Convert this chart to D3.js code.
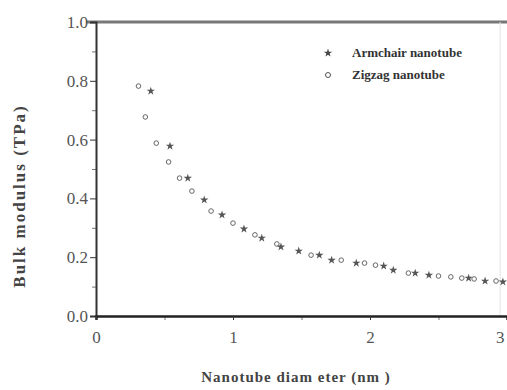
<!DOCTYPE html>
<html>
<head>
  <meta charset="utf-8">
  <title>Bulk modulus vs nanotube diameter</title>
  <style>
    body { margin: 0; background: #fff; }
    text { font-family: "Liberation Serif", "DejaVu Serif", serif; fill: #333; }
  </style>
</head>
<body>
  <div id="plot"></div>
  <script src="https://cdn.jsdelivr.net/npm/d3@7"></script>
  <script>

    function translate(x, y) {
      return 'translate(' + x + ', ' + y + ')';
    }

    // armchair nanotube: diameter (nm), bulk modulus (TPa)
    let armchairD = [0.40, 0.54, 0.67, 0.79, 0.92, 1.08, 1.21, 1.35, 1.48, 1.63,
                     1.72, 1.90, 2.10, 2.17, 2.33, 2.43, 2.72, 2.84, 2.97];
    let armchairB = [0.765, 0.578, 0.469, 0.395, 0.344, 0.296, 0.265, 0.235, 0.221, 0.207,
                     0.190, 0.180, 0.170, 0.156, 0.146, 0.139, 0.129, 0.119, 0.116];

    // zigzag nanotube
    let zigzagD = [0.31, 0.36, 0.44, 0.53, 0.61, 0.70, 0.84, 1.00, 1.16, 1.32,
                   1.57, 1.79, 1.96, 2.04, 2.28, 2.50, 2.59, 2.67, 2.76, 2.92];
    let zigzagB = [0.782, 0.677, 0.588, 0.524, 0.469, 0.425, 0.357, 0.316, 0.276, 0.245,
                   0.207, 0.190, 0.180, 0.173, 0.146, 0.136, 0.133, 0.129, 0.126, 0.119];

    let yMajor = [0, 0.2, 0.4, 0.6, 0.8, 1.0];
    let yMinor = [0.1, 0.3, 0.5, 0.7, 0.9];
    let xMajor = [0, 1, 2, 3];
    let xMinor = [0.5, 1.5, 2.5];

    let legendLabels = ['Armchair nanotube', 'Zigzag nanotube'];

    let armchair = armchairD.map((d, i) => ({d: d, b: armchairB[i]}));
    let zigzag = zigzagD.map((d, i) => ({d: d, b: zigzagB[i]}));

    let svgWidth = 507;
    let svgHeight = 390;
    let margin = {top: 22, right: 0, bottom: 74, left: 96};
    let width = 411;
    let height = svgHeight - margin.top - margin.bottom;

    let svg = d3.select('#plot')
      .append('svg')
        .attr('width', svgWidth)
        .attr('height', svgHeight)
        .append('g')
          .attr('transform', translate(margin.left, margin.top));

    let x = d3.scaleLinear().domain([0, 3]).range([0, width]);
    let y = d3.scaleLinear().domain([0, 1]).range([height, 0]);

    // frame: top and right borders
    svg.append('line')
      .attr('x1', -10).attr('x2', width)
      .attr('y1', y(1)).attr('y2', y(1))
      .style('stroke', '#777').style('stroke-width', 3);
    svg.append('line')
      .attr('x1', x(2.95)).attr('x2', x(2.95))
      .attr('y1', y(1)).attr('y2', y(0))
      .style('stroke', '#e4e4e4').style('stroke-width', 1);

    // minor ticks
    svg.append('g')
      .call(d3.axisLeft(y).tickValues(yMinor).tickSize(4).tickFormat(''))
      .call(g => g.select('.domain').remove())
      .selectAll('line').style('stroke', '#777');
    svg.append('g')
      .attr('transform', translate(0, height))
      .call(d3.axisBottom(x).tickValues(xMinor).tickSize(4).tickFormat(''))
      .call(g => g.select('.domain').remove())
      .selectAll('line').style('stroke', '#777');

    // major axes
    let yAxisG = svg.append('g')
      .call(d3.axisLeft(y).tickValues(yMajor).tickSize(6).tickPadding(2).tickFormat(d3.format('.1f')));
    yAxisG.select('.domain').style('stroke', '#333').style('stroke-width', 2);
    yAxisG.selectAll('line').style('stroke', '#333');
    yAxisG.selectAll('text')
      .style('font-size', '17px').style('font-family', '"Liberation Serif", serif').style('fill', '#555');

    let xAxisG = svg.append('g')
      .attr('transform', translate(0, height))
      .call(d3.axisBottom(x).tickValues(xMajor).tickSize(4).tickPadding(11).tickFormat(d3.format('d')));
    xAxisG.select('.domain').style('stroke', '#222').style('stroke-width', 2.5);
    xAxisG.selectAll('line').style('stroke', '#333');
    xAxisG.selectAll('text')
      .style('font-size', '17px').style('font-family', '"Liberation Serif", serif').style('fill', '#555')
      .filter(d => d === 3).style('text-anchor', 'end').attr('dx', -3);

    // axis titles
    svg.append('text')
      .attr('transform', translate(-71, height / 2 + 27) + ' rotate(-90)')
      .style('text-anchor', 'middle')
      .style('font-size', '17px')
      .style('font-weight', 'bold')
      .style('letter-spacing', '2px')
      .style('fill', '#444')
      .text('Bulk modulus (TPa)');

    svg.append('text')
      .attr('x', 200)
      .attr('y', height + 66)
      .style('text-anchor', 'middle')
      .style('font-size', '15px')
      .style('font-weight', 'bold')
      .style('letter-spacing', '1px')
      .style('fill', '#444')
      .text('Nanotube diam eter (nm )');

    // data points
    let star = d3.symbol().type(d3.symbolStar).size(22);

    svg.append('g')
      .selectAll('path')
      .data(armchair)
      .enter()
      .append('path')
        .attr('transform', d => translate(x(d.d), y(d.b)))
        .attr('d', star)
        .style('fill', '#555');

    svg.append('g')
      .selectAll('circle')
      .data(zigzag)
      .enter()
      .append('circle')
        .attr('cx', d => x(d.d))
        .attr('cy', d => y(d.b))
        .attr('r', 2.3)
        .style('fill', 'none')
        .style('stroke', '#666')
        .style('stroke-width', 1);

    // legend
    let legend = svg.selectAll('.legend')
      .data(legendLabels)
      .enter()
      .append('g')
        .attr('class', 'legend')
        .attr('transform', (d, i) => translate(232, 31 + i * 22));

    legend.filter((d, i) => i === 0)
      .append('path')
        .attr('d', star)
        .style('fill', '#444');
    legend.filter((d, i) => i === 1)
      .append('circle')
        .attr('r', 2.5)
        .style('fill', 'none')
        .style('stroke', '#555');

    legend.append('text')
      .attr('x', 24)
      .attr('dy', 4)
      .style('font-size', '13px')
      .style('font-weight', 'bold')
      .text(d => d);

  </script>
</body>
</html>
